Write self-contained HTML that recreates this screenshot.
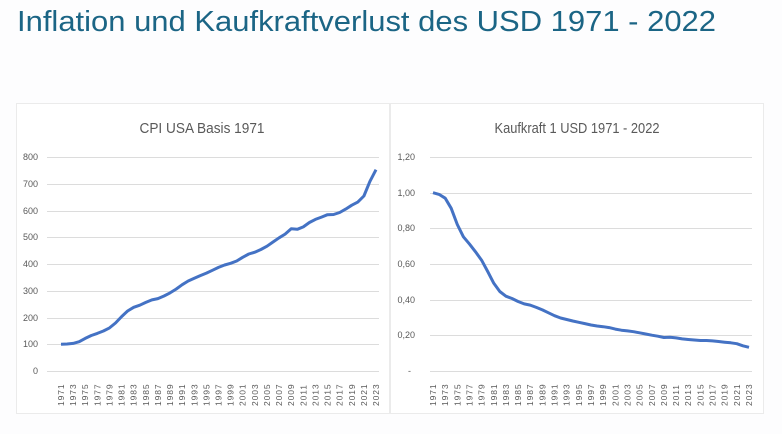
<!DOCTYPE html>
<html><head><meta charset="utf-8"><style>
html,body{margin:0;padding:0;background:#fff;width:782px;height:434px;overflow:hidden}
svg{display:block;font-family:"Liberation Sans",sans-serif}
</style></head><body>
<svg width="782" height="434" viewBox="0 0 782 434">
<rect width="782" height="434" fill="#fdfdfe"/>
<text x="17" y="31" font-size="29" fill="#1b6585" textLength="699" lengthAdjust="spacingAndGlyphs">Inflation und Kaufkraftverlust des USD 1971 - 2022</text>
<rect x="16.5" y="103.5" width="373" height="310" fill="#fff" stroke="#ebebeb"/>
<rect x="390.5" y="103.5" width="373" height="310" fill="#fff" stroke="#ebebeb"/>
<text x="202" y="133" font-size="15" fill="#595959" text-anchor="middle" textLength="125" lengthAdjust="spacingAndGlyphs">CPI USA Basis 1971</text>
<text x="577" y="133" font-size="15" fill="#595959" text-anchor="middle" textLength="165" lengthAdjust="spacingAndGlyphs">Kaufkraft 1 USD 1971 - 2022</text>
<g stroke="#dcdcdc" stroke-width="1">
<line x1="47" x2="379" y1="157.5" y2="157.5"/><line x1="47" x2="379" y1="184.5" y2="184.5"/><line x1="47" x2="379" y1="211.5" y2="211.5"/><line x1="47" x2="379" y1="237.5" y2="237.5"/><line x1="47" x2="379" y1="264.5" y2="264.5"/><line x1="47" x2="379" y1="291.5" y2="291.5"/><line x1="47" x2="379" y1="318.5" y2="318.5"/><line x1="47" x2="379" y1="344.5" y2="344.5"/><line x1="47" x2="379" y1="371.5" y2="371.5"/>
<line x1="430" x2="752" y1="157.5" y2="157.5"/><line x1="430" x2="752" y1="193.5" y2="193.5"/><line x1="430" x2="752" y1="228.5" y2="228.5"/><line x1="430" x2="752" y1="264.5" y2="264.5"/><line x1="430" x2="752" y1="300.5" y2="300.5"/><line x1="430" x2="752" y1="335.5" y2="335.5"/><line x1="430" x2="752" y1="371.5" y2="371.5"/>
</g>
<g font-size="9" fill="#595959" text-anchor="end">
<text x="38" y="160">800</text><text x="38" y="187">700</text><text x="38" y="214">600</text><text x="38" y="240">500</text><text x="38" y="267">400</text><text x="38" y="294">300</text><text x="38" y="321">200</text><text x="38" y="347">100</text><text x="38" y="374">0</text>
<text x="415" y="160">1,20</text><text x="415" y="196">1,00</text><text x="415" y="231">0,80</text><text x="415" y="267">0,60</text><text x="415" y="303">0,40</text><text x="415" y="338">0,20</text><text x="411" y="374">-</text>
</g>
<g font-size="8.5" fill="#595959" letter-spacing="0.9">
<text transform="translate(64,406) rotate(-90)">1971</text><text transform="translate(76.1,406) rotate(-90)">1973</text><text transform="translate(88.2,406) rotate(-90)">1975</text><text transform="translate(100.3,406) rotate(-90)">1977</text><text transform="translate(112.5,406) rotate(-90)">1979</text><text transform="translate(124.6,406) rotate(-90)">1981</text><text transform="translate(136.7,406) rotate(-90)">1983</text><text transform="translate(148.8,406) rotate(-90)">1985</text><text transform="translate(160.9,406) rotate(-90)">1987</text><text transform="translate(173,406) rotate(-90)">1989</text><text transform="translate(185.2,406) rotate(-90)">1991</text><text transform="translate(197.3,406) rotate(-90)">1993</text><text transform="translate(209.4,406) rotate(-90)">1995</text><text transform="translate(221.5,406) rotate(-90)">1997</text><text transform="translate(233.6,406) rotate(-90)">1999</text><text transform="translate(245.7,406) rotate(-90)">2001</text><text transform="translate(257.8,406) rotate(-90)">2003</text><text transform="translate(270,406) rotate(-90)">2005</text><text transform="translate(282.1,406) rotate(-90)">2007</text><text transform="translate(294.2,406) rotate(-90)">2009</text><text transform="translate(306.3,406) rotate(-90)">2011</text><text transform="translate(318.4,406) rotate(-90)">2013</text><text transform="translate(330.5,406) rotate(-90)">2015</text><text transform="translate(342.6,406) rotate(-90)">2017</text><text transform="translate(354.8,406) rotate(-90)">2019</text><text transform="translate(366.9,406) rotate(-90)">2021</text><text transform="translate(379,406) rotate(-90)">2023</text>
<text transform="translate(436,406) rotate(-90)">1971</text><text transform="translate(448.2,406) rotate(-90)">1973</text><text transform="translate(460.3,406) rotate(-90)">1975</text><text transform="translate(472.5,406) rotate(-90)">1977</text><text transform="translate(484.6,406) rotate(-90)">1979</text><text transform="translate(496.8,406) rotate(-90)">1981</text><text transform="translate(508.9,406) rotate(-90)">1983</text><text transform="translate(521.1,406) rotate(-90)">1985</text><text transform="translate(533.2,406) rotate(-90)">1987</text><text transform="translate(545.4,406) rotate(-90)">1989</text><text transform="translate(557.5,406) rotate(-90)">1991</text><text transform="translate(569.7,406) rotate(-90)">1993</text><text transform="translate(581.8,406) rotate(-90)">1995</text><text transform="translate(594,406) rotate(-90)">1997</text><text transform="translate(606.2,406) rotate(-90)">1999</text><text transform="translate(618.3,406) rotate(-90)">2001</text><text transform="translate(630.5,406) rotate(-90)">2003</text><text transform="translate(642.6,406) rotate(-90)">2005</text><text transform="translate(654.8,406) rotate(-90)">2007</text><text transform="translate(666.9,406) rotate(-90)">2009</text><text transform="translate(679.1,406) rotate(-90)">2011</text><text transform="translate(691.2,406) rotate(-90)">2013</text><text transform="translate(703.4,406) rotate(-90)">2015</text><text transform="translate(715.5,406) rotate(-90)">2017</text><text transform="translate(727.7,406) rotate(-90)">2019</text><text transform="translate(739.8,406) rotate(-90)">2021</text><text transform="translate(752,406) rotate(-90)">2023</text>
</g>
<polyline id="p1" fill="none" stroke="#4472c4" stroke-width="3" stroke-linejoin="round" points=""/>
<polyline id="p2" fill="none" stroke="#4472c4" stroke-width="3" stroke-linejoin="round" points=""/>
</svg>
<script>
var c=[40.5,40.9,41.8,44.4,49.3,53.8,56.9,60.6,65.2,72.6,82.4,90.9,96.5,99.6,103.9,107.6,109.6,113.6,118.3,124.0,130.7,136.2,140.3,144.5,148.2,152.4,156.9,160.5,163.0,166.6,172.2,177.1,179.9,184.0,188.9,195.3,201.6,207.3,215.3,214.5,218.1,224.9,229.6,233.0,236.7,237.0,240.0,245.1,251.1,255.7,265,287,304.7];
var n=c.length,a=[],b=[];
for(var i=0;i<n;i++){var v=c[i]/c[0]*100;
a.push((61+i*315/(n-1)).toFixed(1)+","+(371-v*214/800).toFixed(1));
var k=c[0]/c[i];b.push((433+i*316/(n-1)).toFixed(1)+","+(371-k*214/1.2).toFixed(1));}
document.getElementById("p1").setAttribute("points",a.join(" "));
document.getElementById("p2").setAttribute("points",b.join(" "));
</script>
</body></html>
